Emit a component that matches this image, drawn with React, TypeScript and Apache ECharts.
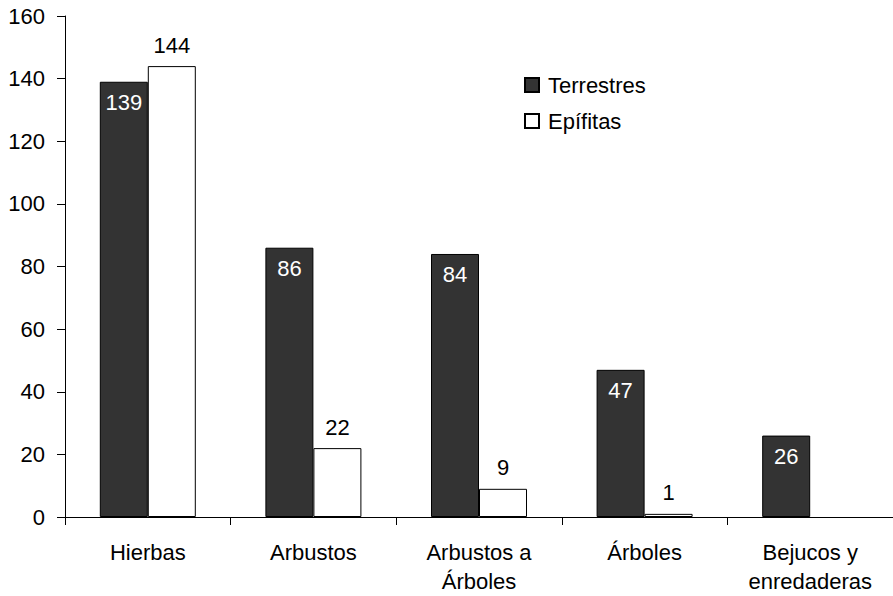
import React, { useEffect, useRef } from "react";
import * as echarts from "echarts";

const categories = ["Hierbas", "Arbustos", "Arbustos a\nÁrboles", "Árboles", "Bejucos y\nenredaderas"];
const terrestres = [139, 86, 84, 47, 26];
const epifitas: (number | null)[] = [144, 22, 9, 1, null];
const yTicks = { min: 0, max: 160, interval: 20 };

const FONT = "'Liberation Sans', Arial, sans-serif";
const FS = 22;

export default function App() {
  const ref = useRef<HTMLDivElement>(null);

  useEffect(() => {
    if (!ref.current) return;
    const chart = echarts.init(ref.current, null, { renderer: "svg" });
    chart.setOption({
      animation: false,
      backgroundColor: "#ffffff",
      textStyle: { fontFamily: FONT },
      grid: { left: 65, top: 16, width: 835, height: 501, containLabel: false },
      legend: {
        orient: "vertical",
        left: 524,
        top: 74,
        padding: 0,
        itemWidth: 14,
        itemHeight: 14,
        itemGap: 14,
        icon: "rect",
        textStyle: { fontSize: FS, color: "#000", fontFamily: FONT, padding: [0, 0, 0, 4] },
        data: ["Terrestres", "Epífitas"],
      },
      xAxis: {
        type: "category",
        data: categories,
        axisLine: { lineStyle: { color: "#000", width: 1 } },
        axisTick: { show: true, length: 8, lineStyle: { color: "#000" } },
        axisLabel: {
          fontSize: FS,
          color: "#000",
          lineHeight: 29,
          margin: 21,
          fontFamily: FONT,
          interval: 0,
        },
      },
      yAxis: {
        type: "value",
        min: yTicks.min,
        max: yTicks.max,
        interval: yTicks.interval,
        splitLine: { show: false },
        axisLine: { show: true, lineStyle: { color: "#000", width: 1 } },
        axisTick: { show: true, length: 8, lineStyle: { color: "#000" } },
        axisLabel: { fontSize: FS, color: "#000", margin: 20, fontFamily: FONT },
      },
      series: [
        {
          name: "Terrestres",
          type: "bar",
          data: terrestres,
          barWidth: 48,
          barGap: "0%",
          itemStyle: { color: "#333333", borderColor: "#000", borderWidth: 1 },
          label: {
            show: true,
            position: "insideTop",
            distance: 10,
            color: "#ffffff",
            fontSize: FS,
            fontFamily: FONT,
          },
        },
        {
          name: "Epífitas",
          type: "bar",
          data: epifitas,
          barWidth: 48,
          barGap: "0%",
          itemStyle: { color: "#ffffff", borderColor: "#000", borderWidth: 1 },
          label: {
            show: true,
            position: "top",
            distance: 10,
            color: "#000",
            fontSize: FS,
            fontFamily: FONT,
          },
        },
      ],
    });
    return () => chart.dispose();
  }, []);

  return (
    <div style={{ position: "fixed", left: 0, top: 0, width: 893, height: 596, background: "#fff" }}>
      <div ref={ref} style={{ width: 893, height: 596 }} />
    </div>
  );
}
